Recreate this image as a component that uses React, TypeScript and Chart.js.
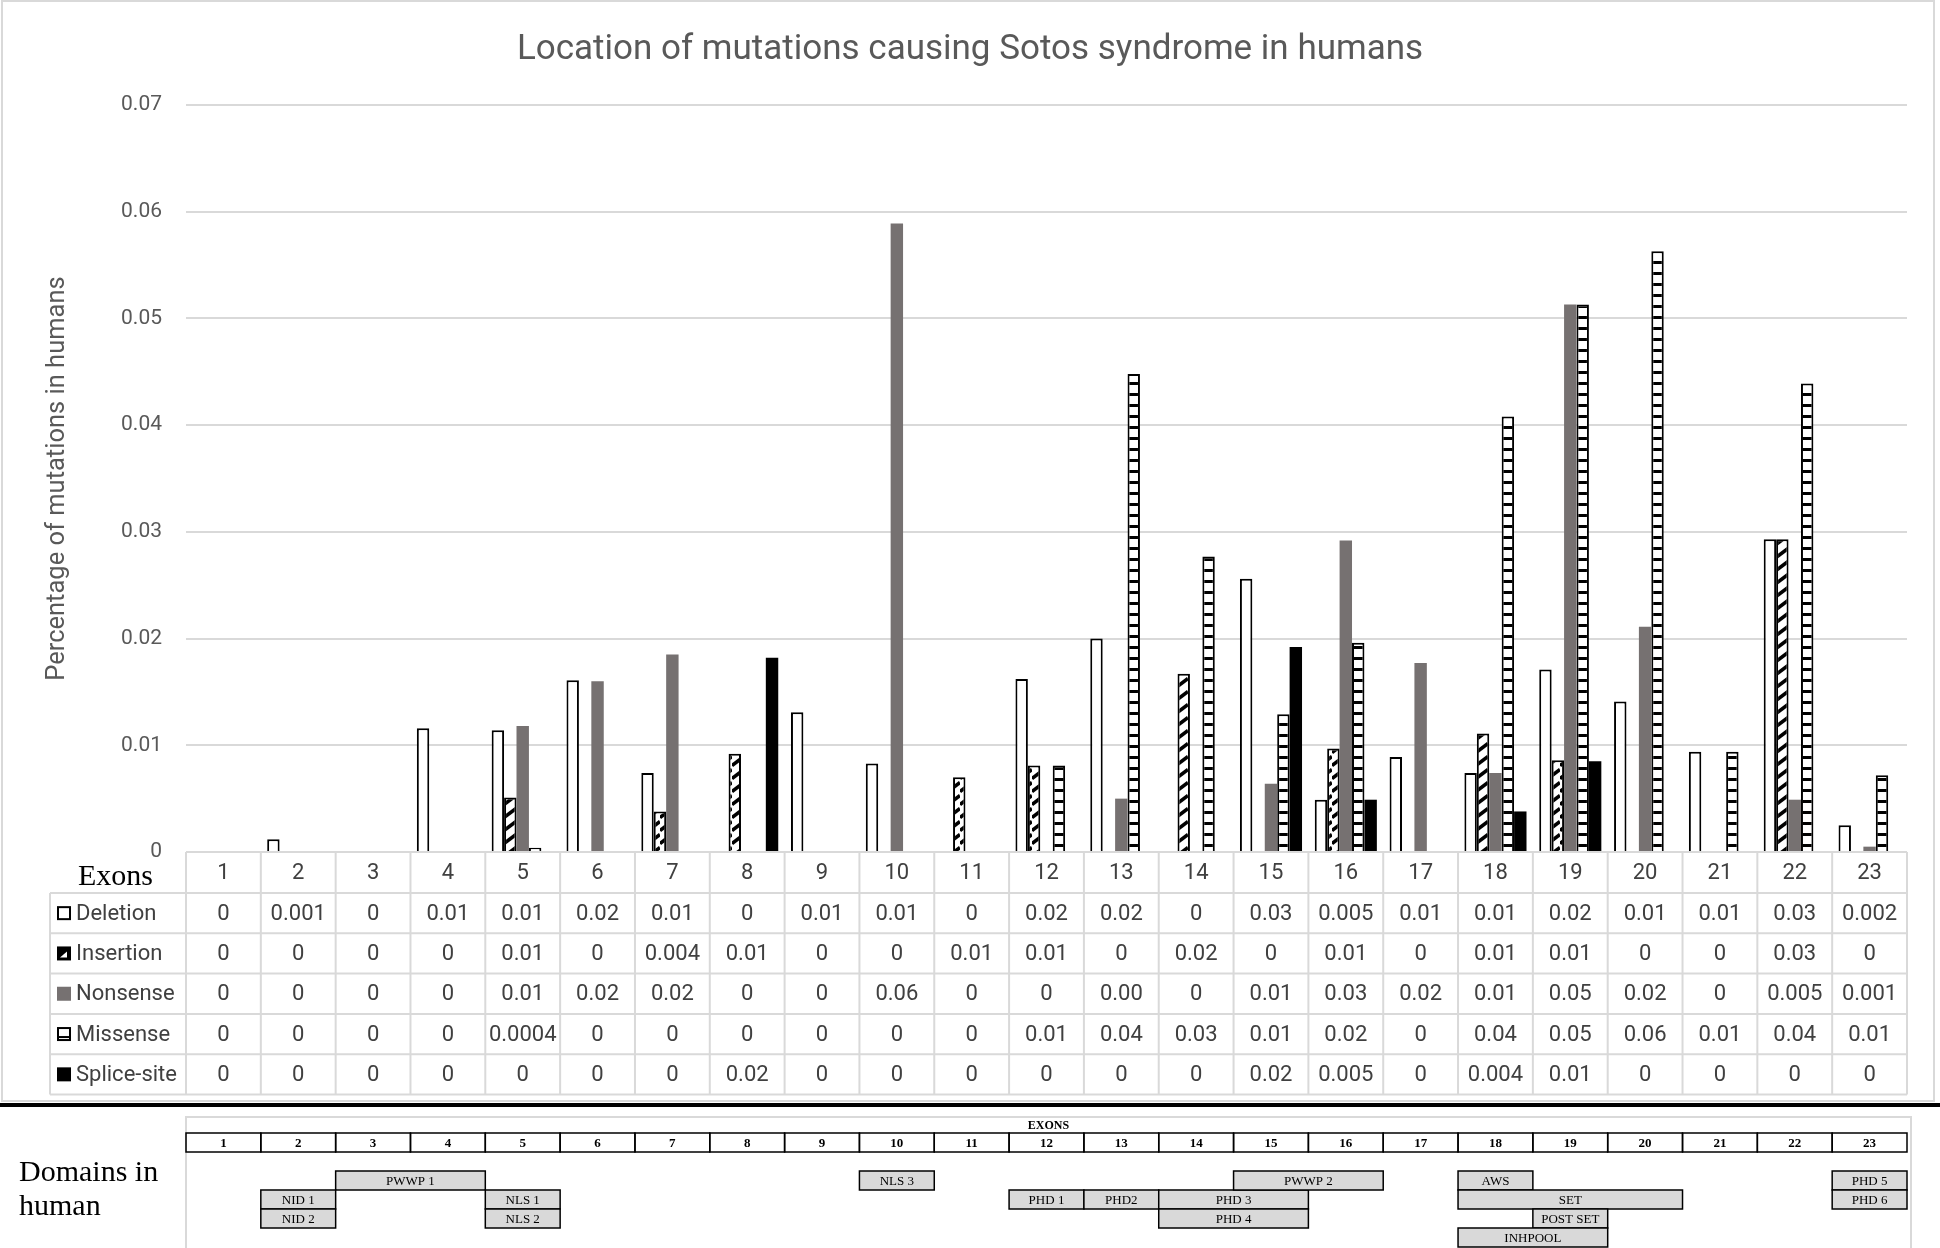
import React, { useEffect, useRef } from "react";
import { Chart, registerables } from "chart.js";

Chart.register(...registerables);

// ---------- data ----------
const exons = ["1", "2", "3", "4", "5", "6", "7", "8", "9", "10", "11", "12", "13", "14", "15", "16", "17", "18", "19", "20", "21", "22", "23"];

const seriesNames = ["Deletion", "Insertion", "Nonsense", "Missense", "Splice-site"];

const deletion = [0, 0.0012, 0, 0.0116, 0.0114, 0.0161, 0.0074, 0, 0.0131, 0.0083, 0, 0.0162, 0.02, 0, 0.0256, 0.0049, 0.0089, 0.0074, 0.0171, 0.0141, 0.0094, 0.0293, 0.0025];
const insertion = [0, 0, 0, 0, 0.0051, 0, 0.0038, 0.0092, 0, 0, 0.007, 0.0081, 0, 0.0167, 0, 0.0097, 0, 0.0111, 0.0086, 0, 0, 0.0293, 0];
const nonsense = [0, 0, 0, 0, 0.0118, 0.016, 0.0185, 0, 0, 0.0589, 0, 0, 0.005, 0, 0.0064, 0.0292, 0.0177, 0.0074, 0.0513, 0.0211, 0, 0.0049, 0.0005];
const missense = [0, 0, 0, 0, 0.0004, 0, 0, 0, 0, 0, 0, 0.0081, 0.0448, 0.0277, 0.0129, 0.0196, 0, 0.0408, 0.0513, 0.0563, 0.0094, 0.0439, 0.0072];
const splice = [0, 0, 0, 0, 0, 0, 0, 0.0182, 0, 0, 0, 0, 0, 0, 0.0192, 0.0049, 0, 0.0038, 0.0085, 0, 0, 0, 0];

// table labels as printed
const deletionLabels = ["0", "0.001", "0", "0.01", "0.01", "0.02", "0.01", "0", "0.01", "0.01", "0", "0.02", "0.02", "0", "0.03", "0.005", "0.01", "0.01", "0.02", "0.01", "0.01", "0.03", "0.002"];
const insertionLabels = ["0", "0", "0", "0", "0.01", "0", "0.004", "0.01", "0", "0", "0.01", "0.01", "0", "0.02", "0", "0.01", "0", "0.01", "0.01", "0", "0", "0.03", "0"];
const nonsenseLabels = ["0", "0", "0", "0", "0.01", "0.02", "0.02", "0", "0", "0.06", "0", "0", "0.00", "0", "0.01", "0.03", "0.02", "0.01", "0.05", "0.02", "0", "0.005", "0.001"];
const missenseLabels = ["0", "0", "0", "0", "0.0004", "0", "0", "0", "0", "0", "0", "0.01", "0.04", "0.03", "0.01", "0.02", "0", "0.04", "0.05", "0.06", "0.01", "0.04", "0.01"];
const spliceLabels = ["0", "0", "0", "0", "0", "0", "0", "0.02", "0", "0", "0", "0", "0", "0", "0.02", "0.005", "0", "0.004", "0.01", "0", "0", "0", "0"];

// domains
const domainNames = ["PWWP 1", "NID 1", "NID 2", "NLS 1", "NLS 2", "NLS 3", "PHD 1", "PHD2", "PHD 3", "PHD 4", "PWWP 2", "AWS", "SET", "POST SET", "INHPOOL", "PHD 5", "PHD 6"];
const domainFirstExon = [3, 2, 2, 5, 5, 10, 12, 13, 14, 14, 15, 18, 18, 19, 18, 23, 23];
const domainLastExon = [4, 2, 2, 5, 5, 10, 12, 13, 15, 15, 16, 18, 20, 19, 19, 23, 23];
const domainRow = [0, 1, 2, 1, 2, 0, 1, 1, 1, 2, 0, 0, 1, 2, 3, 0, 1];

const chartTitle = "Location of mutations causing Sotos syndrome in humans";
const yTitle = "Percentage of mutations in humans";

// ---------- patterns ----------
function makeHatch(): CanvasPattern | string {
  const c = document.createElement("canvas");
  c.width = 12;
  c.height = 13;
  const g = c.getContext("2d");
  if (!g) return "#000";
  g.fillStyle = "#ffffff";
  g.fillRect(0, 0, 12, 13);
  g.strokeStyle = "#000000";
  g.lineWidth = 3.5;
  g.lineCap = "butt";
  g.beginPath();
  g.moveTo(0, 11.5);
  g.lineTo(12, 2.5);
  g.stroke();
  return g.createPattern(c, "repeat") || "#000";
}

function makeLadder(): CanvasPattern | string {
  const c = document.createElement("canvas");
  c.width = 8;
  c.height = 11;
  const g = c.getContext("2d");
  if (!g) return "#000";
  g.fillStyle = "#ffffff";
  g.fillRect(0, 0, 8, 11);
  g.fillStyle = "#000000";
  g.fillRect(0, 8, 8, 3);
  return g.createPattern(c, "repeat") || "#000";
}

const FONT = "Roboto, 'Open Sans', sans-serif";
const SERIF = "'Liberation Serif', 'DejaVu Serif', serif";

export default function App() {
  const ref = useRef<HTMLCanvasElement>(null);

  useEffect(() => {
    document.body.style.margin = "0";
    document.body.style.overflow = "hidden";
    const canvas = ref.current;
    if (!canvas) return;
    const hatch = makeHatch();
    const ladder = makeLadder();

    const tableLabels = [deletionLabels, insertionLabels, nonsenseLabels, missenseLabels, spliceLabels];

    const framePlugin = {
      id: "frame",
      beforeDraw(chart: any) {
        const ctx = chart.ctx as CanvasRenderingContext2D;
        ctx.save();
        ctx.fillStyle = "#ffffff";
        ctx.fillRect(0, 0, chart.width, chart.height);
        ctx.strokeStyle = "#d9d9d9";
        ctx.lineWidth = 2;
        ctx.strokeRect(2, 1, 1932, 1100);
        // title
        ctx.fillStyle = "#595959";
        ctx.font = `35px ${FONT}`;
        ctx.textAlign = "center";
        ctx.textBaseline = "middle";
        ctx.fillText(chartTitle, 970, 50);
        ctx.restore();
      },
    };

    const drawKey = (ctx: CanvasRenderingContext2D, i: number, x: number, y: number) => {
      const s = 14;
      if (i === 0) {
        ctx.fillStyle = "#fff";
        ctx.fillRect(x, y, s, s);
        ctx.strokeStyle = "#000";
        ctx.lineWidth = 2;
        ctx.strokeRect(x + 1, y + 1, s - 2, s - 2);
      } else if (i === 1) {
        ctx.fillStyle = "#000";
        ctx.fillRect(x, y, s, s);
        ctx.fillStyle = "#fff";
        ctx.beginPath();
        ctx.moveTo(x + 3, y + s - 3);
        ctx.lineTo(x + s - 4, y + s - 3);
        ctx.lineTo(x + s - 4, y + 5);
        ctx.closePath();
        ctx.fill();
      } else if (i === 2) {
        ctx.fillStyle = "#767171";
        ctx.fillRect(x, y, s, s);
      } else if (i === 3) {
        ctx.fillStyle = "#fff";
        ctx.fillRect(x, y, s, s);
        ctx.strokeStyle = "#000";
        ctx.lineWidth = 2;
        ctx.strokeRect(x + 1, y + 1, s - 2, s - 2);
        ctx.fillStyle = "#000";
        ctx.fillRect(x, y + s - 5, s, 2);
      } else {
        ctx.fillStyle = "#000";
        ctx.fillRect(x, y, s, s);
      }
    };

    const tablePlugin = {
      id: "dataTable",
      afterDraw(chart: any) {
        const ctx = chart.ctx as CanvasRenderingContext2D;
        const xs = chart.scales.x;
        const area = chart.chartArea;
        const n = exons.length;
        const colW = xs.getPixelForValue(1) - xs.getPixelForValue(0);
        const colLeft = (i: number) => xs.getPixelForValue(i) - colW / 2;
        const top = area.bottom;
        const headerBottom = top + 41;
        const rowH = 40.3;
        const labelLeft = 50;
        const tableRight = colLeft(n - 1) + colW;
        const bottom = headerBottom + rowH * 5;

        ctx.save();
        ctx.strokeStyle = "#d9d9d9";
        ctx.lineWidth = 2;
        ctx.beginPath();
        ctx.moveTo(colLeft(0), top);
        ctx.lineTo(tableRight, top);
        for (let r = 0; r <= 5; r++) {
          const y = headerBottom + rowH * r;
          ctx.moveTo(labelLeft, y);
          ctx.lineTo(tableRight, y);
        }
        ctx.moveTo(labelLeft, headerBottom);
        ctx.lineTo(labelLeft, bottom);
        for (let i = 0; i <= n; i++) {
          const x = i < n ? colLeft(i) : tableRight;
          ctx.moveTo(x, top);
          ctx.lineTo(x, bottom);
        }
        ctx.stroke();

        // header
        ctx.fillStyle = "#404040";
        ctx.font = `22px ${FONT}`;
        ctx.textAlign = "center";
        ctx.textBaseline = "middle";
        for (let i = 0; i < n; i++) {
          ctx.fillText(exons[i], xs.getPixelForValue(i), (top + headerBottom) / 2 + 1);
        }
        ctx.fillStyle = "#000";
        ctx.font = `30px ${SERIF}`;
        ctx.textAlign = "left";
        ctx.textBaseline = "alphabetic";
        ctx.fillText("Exons", 78, 885);

        // rows
        for (let r = 0; r < 5; r++) {
          const cy = headerBottom + rowH * r + rowH / 2;
          drawKey(ctx, r, 57, cy - 7);
          ctx.fillStyle = "#404040";
          ctx.font = `22px ${FONT}`;
          ctx.textAlign = "left";
          ctx.textBaseline = "middle";
          ctx.fillText(seriesNames[r], 76, cy + 1);
          ctx.textAlign = "center";
          for (let i = 0; i < n; i++) {
            ctx.fillText(tableLabels[r][i], xs.getPixelForValue(i), cy + 1);
          }
        }

        // thick separator
        ctx.fillStyle = "#000";
        ctx.fillRect(0, 1103, chart.width, 4);

        // domains section
        ctx.fillStyle = "#000";
        ctx.font = `30px ${SERIF}`;
        ctx.textAlign = "left";
        ctx.textBaseline = "alphabetic";
        ctx.fillText("Domains in", 19, 1181);
        ctx.fillText("human", 19, 1215);

        const boxLeft = colLeft(0);
        const boxRight = tableRight + 4;
        ctx.strokeStyle = "#d9d9d9";
        ctx.lineWidth = 2;
        ctx.strokeRect(boxLeft, 1117, boxRight - boxLeft, 200);

        ctx.fillStyle = "#000";
        ctx.font = `bold 12px ${SERIF}`;
        ctx.textAlign = "center";
        ctx.textBaseline = "middle";
        ctx.fillText("EXONS", (boxLeft + boxRight) / 2, 1126);

        const exTop = 1133;
        const exH = 19;
        ctx.strokeStyle = "#000";
        ctx.lineWidth = 1.5;
        ctx.font = `bold 13px ${SERIF}`;
        for (let i = 0; i < n; i++) {
          ctx.strokeRect(colLeft(i), exTop, colW, exH);
          ctx.fillText(exons[i], xs.getPixelForValue(i), exTop + exH / 2 + 1);
        }

        const rowTops = [1171, 1190, 1209, 1228];
        const dH = 19;
        ctx.font = `13px ${SERIF}`;
        for (let d = 0; d < domainNames.length; d++) {
          const x0 = colLeft(domainFirstExon[d] - 1);
          const x1 = colLeft(domainLastExon[d] - 1) + colW;
          const y0 = rowTops[domainRow[d]];
          ctx.fillStyle = "#d9d9d9";
          ctx.fillRect(x0, y0, x1 - x0, dH);
          ctx.strokeStyle = "#000";
          ctx.lineWidth = 1.5;
          ctx.strokeRect(x0, y0, x1 - x0, dH);
          ctx.fillStyle = "#000";
          ctx.fillText(domainNames[d], (x0 + x1) / 2, y0 + dH / 2 + 1);
        }
        ctx.restore();
      },
    };

    const chart = new Chart(canvas, {
      type: "bar",
      data: {
        labels: exons,
        datasets: [
          { label: seriesNames[0], data: deletion, backgroundColor: "#ffffff", borderColor: "#000000", borderWidth: 2 },
          { label: seriesNames[1], data: insertion, backgroundColor: hatch as any, borderColor: "#000000", borderWidth: 2 },
          { label: seriesNames[2], data: nonsense, backgroundColor: "#767171", borderWidth: 0 },
          { label: seriesNames[3], data: missense, backgroundColor: ladder as any, borderColor: "#000000", borderWidth: 2 },
          { label: seriesNames[4], data: splice, backgroundColor: "#000000", borderWidth: 0 },
        ],
      },
      options: {
        responsive: false,
        animation: false,
        devicePixelRatio: 1,
        datasets: { bar: { categoryPercentage: 0.83, barPercentage: 1 } },
        layout: { padding: { top: 105, left: 0, right: 33, bottom: 396 } },
        plugins: {
          legend: { display: false },
          title: { display: false },
          tooltip: { enabled: false },
        },
        scales: {
          x: { display: false },
          y: {
            min: 0,
            max: 0.07,
            ticks: { stepSize: 0.01, padding: 24, color: "#595959", font: { family: FONT, size: 21 } },
            grid: { color: "#d9d9d9", lineWidth: 2, drawTicks: false },
            border: { display: false },
            title: {
              display: true,
              text: yTitle,
              color: "#595959",
              font: { family: FONT, size: 25.5 },
              padding: { top: 42, bottom: 0 },
            },
            afterFit: (s: any) => {
              s.width = 186;
            },
          },
        },
      } as any,
      plugins: [framePlugin, tablePlugin],
    });
    return () => chart.destroy();
  }, []);

  return <canvas ref={ref} width={1940} height={1248} style={{ display: "block" }} />;
}
